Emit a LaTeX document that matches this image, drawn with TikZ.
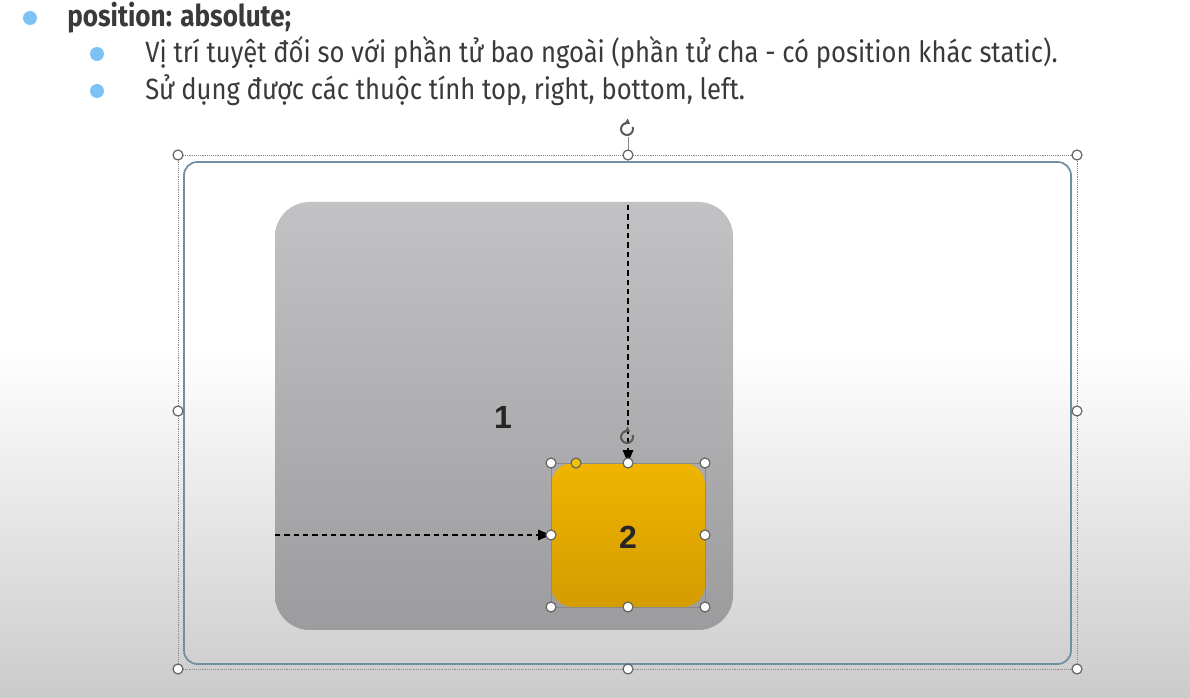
\documentclass[tikz,border=0pt]{standalone}
\usepackage{fontspec}
\setmainfont{Fira Sans}
\newfontfamily\numfont{Liberation Sans}
\usetikzlibrary{arrows.meta}
\definecolor{bulletblue}{HTML}{7CC2F4}
\definecolor{txtgray}{HTML}{3A3A3A}
\definecolor{framecol}{HTML}{6F8FA2}
\definecolor{selgray}{HTML}{8A8A8A}
\definecolor{boxtop}{HTML}{C2C1C3}
\definecolor{boxbot}{HTML}{9C9B9D}
\definecolor{ytop}{HTML}{F0B400}
\definecolor{ybot}{HTML}{D49C00}
\definecolor{bgbot}{HTML}{CBCBCB}
\begin{document}
\begin{tikzpicture}[x=0.75pt,y=-0.75pt,
  bullet/.style={circle,fill=bulletblue,inner sep=0pt,minimum size=10.5pt},
  linetext/.style={anchor=base west,inner sep=0pt,text=txtgray,font=\fontsize{22pt}{24pt}\selectfont},
  headtext/.style={anchor=base west,inner sep=0pt,text=txtgray,font=\fontsize{22.5pt}{24pt}\selectfont\bfseries},
  box1/.style={rounded corners=26pt,top color=boxtop,bottom color=boxbot,draw=none,minimum width=343.5pt,minimum height=321pt,inner sep=0pt},
  box2/.style={rounded corners=16.5pt,top color=ytop,bottom color=ybot,draw=none,minimum width=115.5pt,minimum height=108pt,inner sep=0pt},
  numlabel/.style={font=\numfont\bfseries\fontsize{24pt}{25pt}\selectfont,text=black!85},
  sel/.style={selgray,line width=0.4pt,densely dotted},
  selsolid/.style={selgray,line width=0.6pt},
  handle/.style={circle,draw=black!60,fill=white,line width=0.9pt,inner sep=0pt,minimum size=7.5pt},
  yhandle/.style={circle,draw=black!60,fill=ytop!80!yellow,line width=0.9pt,inner sep=0pt,minimum size=7.5pt},
  dasharrow/.style={black,line width=0.8pt,dashed,dash pattern=on 4pt off 3pt,-{Triangle[length=9.5pt,width=8pt]}},
  rot/.style={black!65,line width=1.5pt,-{Triangle[length=3.5pt,width=5pt]}}
]
\useasboundingbox (0,0) rectangle (1190,698);
% background
\fill[white] (0,0) rectangle (1190,350);
\shade[top color=white,bottom color=bgbot] (0,349) rectangle (1190,698);

% text
\node[bullet] (b0) at (30,18) {};
\node[headtext] (t0) at (67,27) {\scalebox{0.87}[1]{position: absolute;}};
\node[bullet] (b1) at (97,54) {};
\node[linetext] (t1) at (145,63) {\scalebox{0.873}[1]{Vị trí tuyệt đối so với phần tử bao ngoài (phần tử cha - có position khác static).}};
\node[bullet] (b2) at (97,91) {};
\node[linetext] (t2) at (145,100) {\scalebox{0.873}[1]{Sử dụng được các thuộc tính top, right, bottom, left.}};

% outer selection frame
\draw[sel] (178,155) rectangle (1077,669);
\draw[framecol,line width=1.3pt,rounded corners=10pt] (184,162) rectangle (1071,664);
\coordinate (rot1) at (627,129);
\draw[selgray,line width=0.5pt] (628,137) -- (628,155);
\foreach \p/\n in {{178,155}/h1,{628,155}/h2,{1077,155}/h3,{178,411}/h4,{1077,411}/h5,{178,669}/h6,{628,669}/h7,{1077,669}/h8}
  \node[handle] (\n) at (\p) {};
\draw[rot] ([shift={(-20:6)}]rot1) arc (-20:300:6);

% box 1
\node[box1] (box1) at (504,416) {};
\node[numlabel] (l1) at (503,417) {1};

% box 2
\node[box2] (box2) at (628,535) {};
\node[numlabel] (l2) at (628,537) {2};
\draw[selsolid] (551,463) rectangle (705,607);

% arrows
\coordinate (vtop) at (628,205);
\coordinate (hleft) at (275,535);
\draw[dasharrow] (vtop) -- (box2.north);
\draw[dasharrow] (hleft) -- (box2.west);

% box 2 handles
\foreach \p/\n in {{551,463}/k1,{628,463}/k2,{705,463}/k3,{551,535}/k4,{705,535}/k5,{551,607}/k6,{628,607}/k7,{705,607}/k8}
  \node[handle] (\n) at (\p) {};
\node[yhandle] (k9) at (576,463) {};
\coordinate (rot2) at (627,437);
\draw[rot] ([shift={(-20:6)}]rot2) arc (-20:300:6);
\end{tikzpicture}
\end{document}
